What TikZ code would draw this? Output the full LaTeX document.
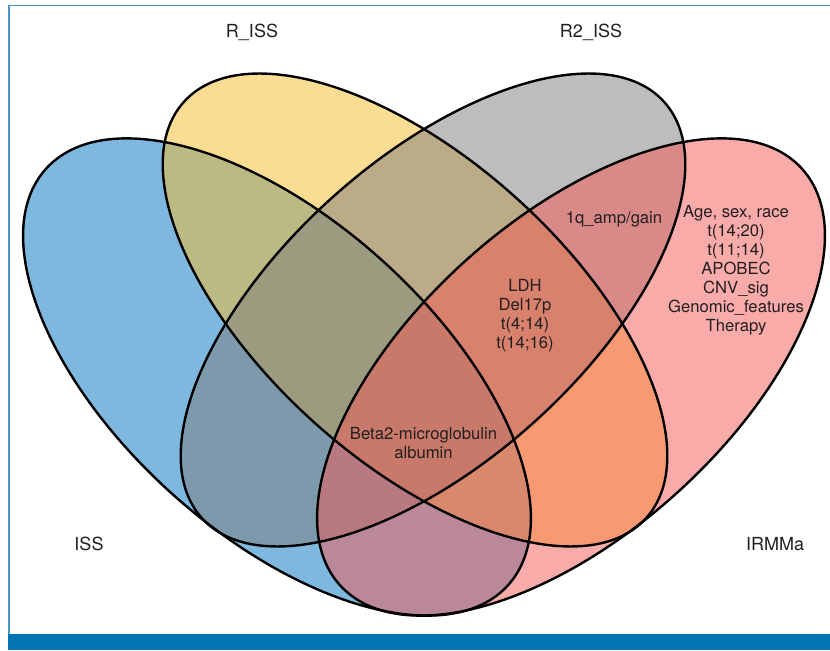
\documentclass[tikz,border=0pt]{standalone}
\usepackage{fontspec}
\setmainfont{TeX Gyre Heros}
\definecolor{cBlue}{RGB}{1,115,193}
\definecolor{cYellow}{RGB}{247,189,39}
\definecolor{cGray}{RGB}{125,125,125}
\definecolor{cPink}{RGB}{245,89,85}
\definecolor{frameblue}{RGB}{70,150,200}
\definecolor{barblue}{RGB}{0,117,178}
\definecolor{txt}{RGB}{35,31,32}
\begin{document}
\begin{tikzpicture}[x=0.75pt,y=0.75pt,
  setfill/.style={fill=#1, fill opacity=0.5},
  setline/.style={draw=black, line width=1.8pt},
  catlabel/.style={font=\fontsize{13.5}{16}\selectfont, text=txt, inner sep=0pt},
  reglabel/.style={font=\fontsize{12.5}{14.25}\selectfont, text=txt, align=center, inner sep=0pt}]
\useasboundingbox (0,0) rectangle (830,650);
\fill[white] (0,0) rectangle (830,650);
% frame
\fill[barblue] (8,0) rectangle (830,16);
\draw[frameblue, line width=1.4pt] (9,16) -- (9,644.5) -- (830,644.5);
% set fills
\fill[setfill=cBlue, rotate around={-42:(277,273)}] (277,273) ellipse (311 and 157);
\fill[setfill=cYellow, rotate around={-42:(415,340)}] (415,340) ellipse (311 and 151);
\fill[setfill=cGray, rotate around={42:(433,340)}] (433,340) ellipse (311 and 151);
\fill[setfill=cPink, rotate around={42:(571,273)}] (571,273) ellipse (311 and 157);
% set outlines
\draw[setline, rotate around={-42:(277,273)}] (277,273) ellipse (311 and 157);
\draw[setline, rotate around={-42:(415,340)}] (415,340) ellipse (311 and 151);
\draw[setline, rotate around={42:(433,340)}] (433,340) ellipse (311 and 151);
\draw[setline, rotate around={42:(571,273)}] (571,273) ellipse (311 and 157);
% category labels
\node[catlabel] (lR) at (252,618) {R\_ISS};
\node[catlabel] (lR2) at (591,618) {R2\_ISS};
\node[catlabel] (lISS) at (89,106) {ISS};
\node[catlabel] (lIRMMa) at (775,106) {IRMMa};
% region labels
\node[reglabel] (r1q) at (614,431) {1q\_amp/gain};
\node[reglabel] (rLDH) at (525,334.5) {LDH\\Del17p\\t(4;14)\\t(14;16)};
\node[reglabel] (rIRM) at (736,380) {Age, sex, race\\t(14;20)\\t(11;14)\\APOBEC\\CNV\_sig\\Genomic\_features\\Therapy};
\node[reglabel] (rAll) at (423.5,206.5) {Beta2-microglobulin\\albumin};
\end{tikzpicture}
\end{document}
